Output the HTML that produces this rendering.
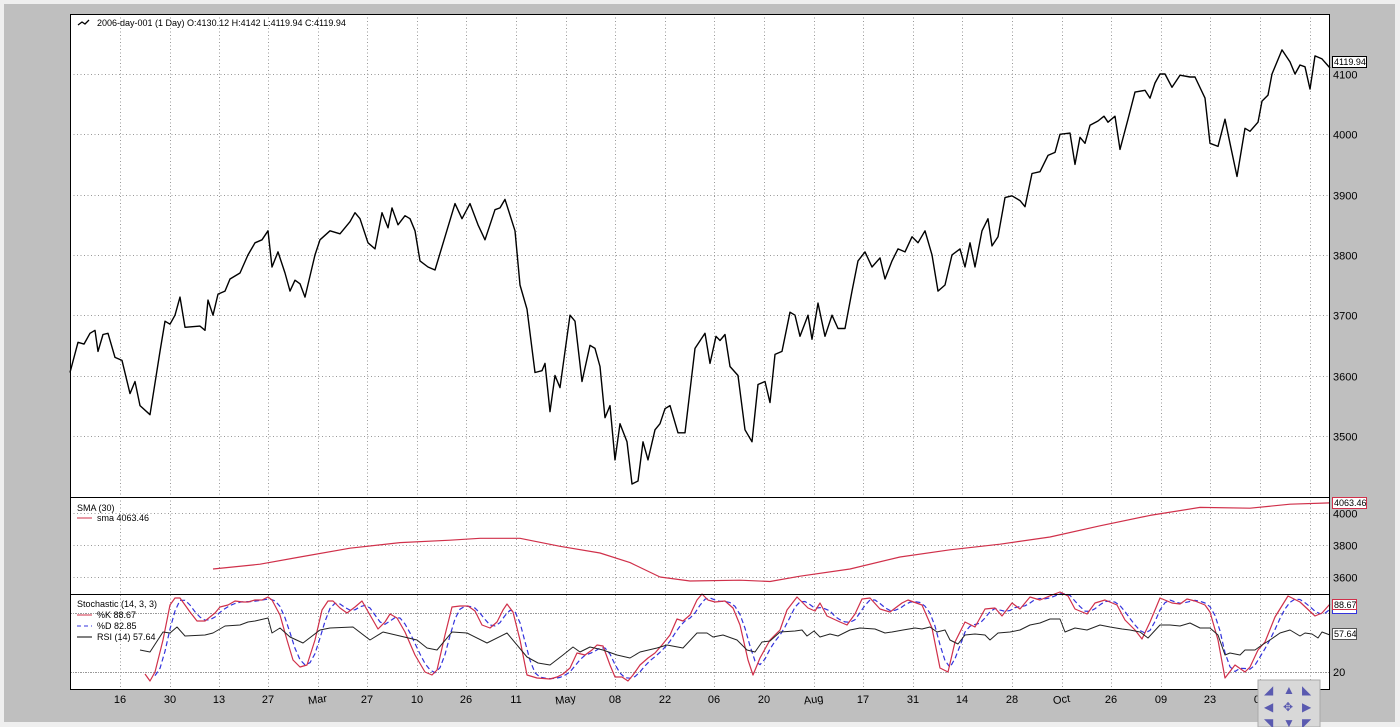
<!DOCTYPE html>
<html><head><meta charset="utf-8"><style>
html,body{margin:0;padding:0;background:#efefef;}
svg{display:block;font-family:"Liberation Sans","DejaVu Sans",sans-serif;}
</style></head><body>
<svg id="s" width="1400" height="727" xmlns="http://www.w3.org/2000/svg">
<rect x="0" y="0" width="1400" height="727" fill="#efefef"/>
<rect x="4" y="4" width="1391" height="718" fill="#bfbfbf"/>
<rect x="70" y="14" width="1260" height="676" fill="#fff"/>
<g id="grid" stroke="#999" stroke-width="1" stroke-dasharray="1,2.5"></g>
<g id="series" fill="none" stroke-linejoin="round"></g>
<g stroke="#000" stroke-width="1" fill="none">
<rect x="70.5" y="14.5" width="1259" height="675"/>
<line x1="70" y1="497.5" x2="1330" y2="497.5"/>
<line x1="70" y1="594.5" x2="1330" y2="594.5"/>
</g>
<g id="labels" font-size="11" fill="#000"></g>
<g font-size="9" fill="#000">
<path d="M78 25 l4 -3 l3 2 l4 -4" stroke="#000" fill="none" stroke-width="1.3"/>
<text x="97" y="26">2006-day-001 (1 Day) O:4130.12 H:4142 L:4119.94 C:4119.94</text>
<text x="77" y="511">SMA (30)</text>
<line x1="77" y1="518" x2="92" y2="518" stroke="#d0304a"/>
<text x="97" y="521">sma 4063.46</text>
<text x="77" y="607">Stochastic (14, 3, 3)</text>
<line x1="77" y1="615" x2="92" y2="615" stroke="#d0304a"/>
<text x="97" y="618">%K 88.67</text>
<line x1="77" y1="626" x2="92" y2="626" stroke="#3333dd" stroke-dasharray="4,3"/>
<text x="97" y="629">%D 82.85</text>
<line x1="77" y1="637" x2="92" y2="637" stroke="#000"/>
<text x="97" y="640">RSI (14) 57.64</text>
</g>
<g font-size="9">
<rect x="1332.5" y="56.5" width="34" height="11" fill="#fff" stroke="#000"/>
<text x="1334" y="65">4119.94</text>
<rect x="1332.5" y="497.5" width="34" height="11" fill="#fff" stroke="#d0304a"/>
<text x="1334" y="506">4063.46</text>
<rect x="1332.5" y="603.5" width="24" height="10" fill="#fff" stroke="#3333dd"/>
<rect x="1332.5" y="599.5" width="24" height="10" fill="#fff" stroke="#d0304a"/>
<text x="1334" y="608">88.67</text>
<rect x="1332.5" y="628.5" width="24" height="11" fill="#fff" stroke="#555"/>
<text x="1334" y="637">57.64</text>
</g>
<g>
<rect x="1258" y="680" width="62" height="47" fill="#d8d8d8" stroke="#aaa"/>
<g fill="#5a5ab0" font-size="12">
<text x="1264" y="694">◢</text><text x="1283" y="694">▲</text><text x="1302" y="694">◣</text>
<text x="1264" y="711">◀</text><text x="1283" y="711">✥</text><text x="1302" y="711">▶</text>
<text x="1264" y="727">◥</text><text x="1283" y="727">▼</text><text x="1302" y="727">◤</text>
</g>
</g>
</svg>
<script>
var NS="http://www.w3.org/2000/svg";
function el(t,a,p){var e=document.createElementNS(NS,t);for(var k in a)e.setAttribute(k,a[k]);document.getElementById(p).appendChild(e);return e;}
var py=function(v){return 74+(4100-v)*0.603;};
var sy=function(v){return 513+(4000-v)*0.16;};
var xt=[[120,"16"],[170,"30"],[219,"13"],[268,"27"],[318,"Mar"],[367,"27"],[417,"10"],[466,"26"],[516,"11"],[566,"May"],[615,"08"],[665,"22"],[714,"06"],[764,"20"],[814,"Aug"],[863,"17"],[913,"31"],[962,"14"],[1012,"28"],[1062,"Oct"],[1111,"26"],[1161,"09"],[1210,"23"],[1260,"07"],[1310,"Dec"]];
xt.forEach(function(t){el("line",{x1:t[0]+.5,y1:14,x2:t[0]+.5,y2:690},"grid");
 var tx=el("text",{x:t[0],y:703,"text-anchor":"middle"},"labels");
 if(isNaN(+t[1]))tx.setAttribute("transform","rotate(-8 "+t[0]+" 703)");
 tx.textContent=t[1];});
[4100,4000,3900,3800,3700,3600,3500].forEach(function(v){var y=Math.round(py(v))+.5;el("line",{x1:70,y1:y,x2:1330,y2:y},"grid");var t=el("text",{x:1333,y:y+4},"labels");t.textContent=v;});
[4000,3800,3600].forEach(function(v){var y=Math.round(sy(v))+.5;el("line",{x1:70,y1:y,x2:1330,y2:y},"grid");var t=el("text",{x:1333,y:y+4},"labels");t.textContent=v;});
[613.5,672.5].forEach(function(y){el("line",{x1:70,y1:y,x2:1330,y2:y,"stroke-dasharray":"2,1,1,1"},"grid");});
var t20=el("text",{x:1333,y:676},"labels");t20.textContent="20";
var P=[70,3605,78,3655,84,3652,90,3670,95,3675,98,3640,103,3668,108,3670,115,3630,122,3625,130,3570,135,3590,140,3550,150,3535,160,3640,165,3690,170,3685,175,3700,180,3730,185,3680,200,3682,205,3675,208,3725,213,3700,218,3735,225,3740,230,3760,240,3770,248,3800,255,3820,262,3825,268,3840,272,3780,278,3805,285,3770,290,3740,295,3758,300,3752,305,3730,315,3800,320,3825,330,3840,340,3835,350,3855,355,3870,360,3860,368,3820,375,3810,382,3870,388,3845,392,3878,398,3850,405,3865,410,3860,415,3840,420,3790,428,3780,435,3775,445,3830,455,3885,462,3860,470,3885,478,3850,485,3825,495,3875,500,3878,505,3892,515,3840,520,3750,527,3710,535,3605,542,3608,545,3620,550,3540,555,3600,560,3580,570,3700,575,3690,582,3590,590,3650,595,3645,600,3615,605,3530,610,3550,615,3460,620,3520,627,3490,632,3420,638,3425,643,3490,648,3460,655,3510,660,3520,665,3545,670,3550,678,3505,685,3505,695,3645,705,3670,710,3620,716,3665,720,3658,725,3668,730,3615,738,3600,745,3510,752,3490,758,3585,765,3590,770,3555,775,3635,782,3640,790,3705,795,3700,800,3665,808,3700,812,3660,818,3720,825,3665,832,3700,838,3678,845,3678,852,3740,858,3790,865,3805,872,3780,880,3795,885,3760,892,3790,898,3810,905,3805,912,3830,918,3820,925,3840,932,3800,938,3740,945,3750,952,3800,960,3810,965,3780,970,3820,975,3780,982,3840,988,3860,992,3815,998,3830,1005,3895,1012,3898,1020,3890,1025,3880,1032,3935,1040,3938,1048,3965,1055,3970,1060,4000,1070,4002,1075,3950,1080,3995,1085,3985,1090,4015,1098,4022,1104,4030,1108,4020,1115,4030,1120,3975,1128,4025,1135,4070,1145,4073,1150,4060,1155,4085,1160,4100,1165,4100,1172,4078,1180,4098,1190,4095,1195,4095,1205,4060,1210,3985,1218,3980,1225,4025,1230,3985,1237,3930,1245,4010,1250,4005,1258,4020,1262,4055,1268,4065,1272,4100,1282,4140,1290,4120,1295,4100,1300,4115,1305,4112,1310,4075,1315,4130,1322,4125,1330,4110];
var d="";for(var i=0;i<P.length;i+=2)d+=(i?"L":"M")+P[i]+" "+py(P[i+1]).toFixed(1);
el("path",{d:d,stroke:"#000","stroke-width":1.4},"series");
var S=[213,3650,260,3680,300,3725,350,3780,400,3815,450,3830,480,3842,520,3842,560,3792,600,3750,630,3690,660,3600,690,3575,740,3580,770,3572,800,3605,850,3650,900,3725,950,3770,1000,3805,1050,3850,1100,3920,1150,3985,1200,4035,1250,4030,1290,4055,1330,4063];
d="";for(i=0;i<S.length;i+=2)d+=(i?"L":"M")+S[i]+" "+sy(S[i+1]).toFixed(1);
el("path",{d:d,stroke:"#d0304a","stroke-width":1.2},"series");
var K=[145,674,150,681,155,672,163,640,170,605,175,598,180,598,190,612,197,621,205,621,210,617,215,613,220,607,228,605,235,601,243,602,248,602,255,600,262,600,268,597,272,600,280,615,287,640,293,660,300,667,307,665,315,640,322,610,328,601,333,601,340,608,347,613,355,607,362,601,370,615,378,629,385,622,390,614,397,618,405,632,415,655,425,672,432,675,437,670,445,635,452,607,460,606,468,606,475,611,482,625,490,628,497,622,503,610,507,604,513,612,520,640,527,675,537,678,550,679,557,677,563,674,570,668,577,653,585,655,592,650,597,645,603,646,610,665,615,677,622,677,628,681,633,675,640,665,648,658,655,653,662,645,670,635,677,619,683,621,690,615,697,600,702,594,708,600,715,602,725,601,733,608,740,625,748,660,753,675,760,658,770,640,780,630,787,610,797,597,808,608,815,611,820,603,827,616,840,622,847,625,855,614,862,599,870,598,880,609,890,612,902,603,908,600,922,605,932,628,940,668,948,672,955,642,965,622,975,627,985,609,995,608,1002,616,1012,603,1020,609,1030,597,1040,600,1052,595,1060,592,1068,596,1075,609,1087,614,1095,603,1105,600,1117,605,1125,620,1135,630,1142,639,1150,622,1160,598,1172,603,1180,604,1187,599,1195,601,1205,605,1210,612,1218,640,1225,678,1235,665,1245,672,1250,667,1258,650,1265,642,1275,617,1288,596,1300,602,1315,616,1322,613,1330,604];
var kd="";for(i=0;i<K.length;i+=2)kd+=(i?"L":"M")+K[i]+" "+K[i+1];
// resample K every 5px, %D = SMA3
function interp(x){for(var j=2;j<K.length;j+=2){if(K[j]>=x){var x0=K[j-2],x1=K[j],t=(x-x0)/(x1-x0||1);return K[j-1]+(K[j+1]-K[j-1])*t;}}return K[K.length-1];}
var U=[];for(var x=145;x<=1330;x+=5)U.push([x,interp(x)]);
var dd="";for(i=2;i<U.length;i++){dd+=(i>2?"L":"M")+U[i][0]+" "+((U[i][1]+U[i-1][1]+U[i-2][1])/3).toFixed(1);}
el("path",{d:dd,stroke:"#3333dd","stroke-width":1.2,"stroke-dasharray":"5,3"},"series");
el("path",{d:kd,stroke:"#d0304a","stroke-width":1.2},"series");
var R=[140,650,150,652,163,632,170,633,177,627,185,636,205,635,213,633,225,626,240,625,248,622,255,621,268,618,272,633,280,628,290,637,303,643,320,630,330,628,353,627,370,640,383,632,400,636,417,640,427,648,437,650,452,632,467,633,487,643,507,633,527,657,538,663,550,665,563,655,573,647,580,652,590,647,603,650,617,655,630,658,640,652,657,648,667,645,683,648,697,633,707,633,713,637,723,635,737,640,747,650,755,652,762,642,770,641,780,632,795,631,802,630,807,636,814,631,820,637,830,634,838,636,850,630,860,628,875,629,885,633,892,632,903,630,915,628,922,629,930,627,937,632,945,630,950,640,958,644,965,635,975,634,985,635,990,640,998,633,1010,632,1020,630,1030,625,1040,623,1050,619,1060,619,1065,632,1075,628,1087,630,1100,625,1110,627,1122,629,1130,630,1140,632,1148,638,1160,625,1170,625,1180,626,1190,623,1200,628,1210,628,1218,635,1225,655,1230,653,1240,655,1245,650,1255,650,1262,645,1270,640,1280,633,1290,630,1300,636,1305,633,1312,634,1318,638,1322,632,1330,635];
d="";for(i=0;i<R.length;i+=2)d+=(i?"L":"M")+R[i]+" "+R[i+1];
el("path",{d:d,stroke:"#222","stroke-width":1},"series");
</script>
</body></html>
